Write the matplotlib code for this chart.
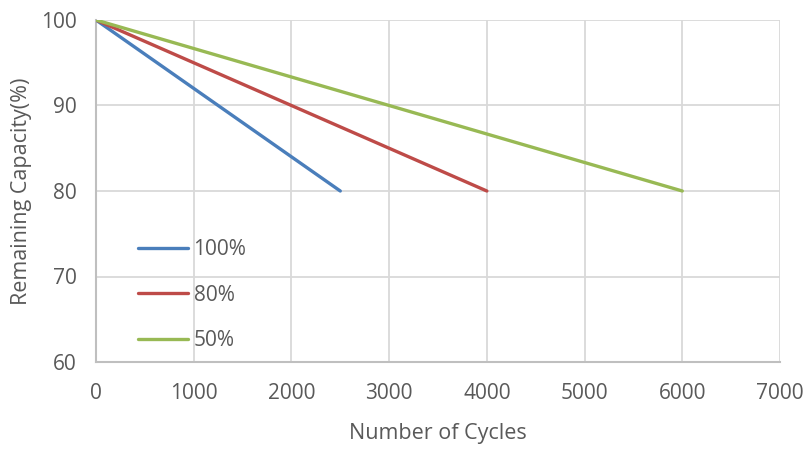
import matplotlib
matplotlib.use("Agg")
import matplotlib.pyplot as plt
from matplotlib.lines import Line2D

cycles_100 = [0, 2500]
cap_100 = [100, 80]
cycles_80 = [0, 4000]
cap_80 = [100, 80]
cycles_50 = [0, 6000]
cap_50 = [100, 80]
series_labels = ["100%", "80%", "50%"]
colors = ["#4A7EBB", "#BE4B48", "#98B954"]
x_ticks = [0, 1000, 2000, 3000, 4000, 5000, 6000, 7000]
y_ticks = [60, 70, 80, 90, 100]

plt.rcParams['font.family'] = ['Open Sans', 'DejaVu Sans']
txt = "#595959"

fig = plt.figure(figsize=(8.09, 4.53), dpi=100)
ax = fig.add_axes([96/809, 1-362/453, (780-96)/809, (362-20)/453])

lw = 2.4
ax.plot(cycles_100, cap_100, color=colors[0], lw=lw, solid_capstyle='round', zorder=3)
ax.plot(cycles_80, cap_80, color=colors[1], lw=lw, solid_capstyle='round', zorder=3)
ax.plot(cycles_50, cap_50, color=colors[2], lw=lw, solid_capstyle='round', zorder=3)

ax.set_xlim(0, 7000)
ax.set_ylim(60, 100)
ax.set_xticks(x_ticks)
ax.set_yticks(y_ticks)
ax.grid(True, color="#D9D9D9", lw=1.3, zorder=0)
ax.set_axisbelow(True)
for s in ["top", "right"]:
    ax.spines[s].set_visible(False)
for s in ["left", "bottom"]:
    ax.spines[s].set_color("#BFBFBF")
    ax.spines[s].set_linewidth(1.5)
ax.tick_params(length=0, labelsize=15, colors=txt)
ax.tick_params(axis='y', pad=14)
ax.tick_params(axis='x', pad=15)
ax.set_xlabel("Number of Cycles", fontsize=15.5, color=txt, labelpad=14)
ax.set_ylabel("Remaining Capacity(%)", fontsize=15.5, color=txt, labelpad=6)

handles = [Line2D([0], [0], color=c, lw=lw, solid_capstyle='round') for c in colors]
leg = ax.legend(handles, series_labels, loc='upper left', bbox_to_anchor=(34/684, (362-231)/342),
                frameon=False, fontsize=15, labelcolor=txt, handlelength=2.4,
                handletextpad=0.25, labelspacing=1.17, borderaxespad=0)

fig.savefig("out.png", dpi=100)
